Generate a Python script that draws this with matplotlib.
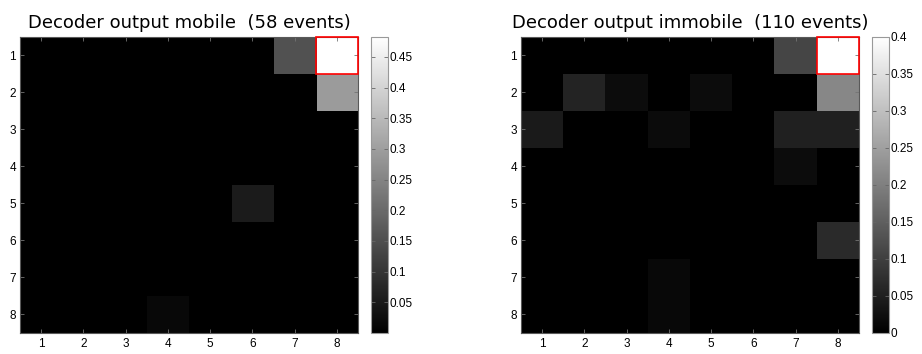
import numpy as np
import matplotlib
matplotlib.use("Agg")
import matplotlib.pyplot as plt
from matplotlib.patches import Rectangle
from matplotlib.ticker import FuncFormatter

labels = [1, 2, 3, 4, 5, 6, 7, 8]

mobile_title = "Decoder output mobile  (58 events)"
immobile_title = "Decoder output immobile  (110 events)"

# rows 1..8 (top to bottom), columns 1..8
mobile = np.array([
    [0, 0, 0, 0, 0, 0, 0.155, 0.483],
    [0, 0, 0, 0, 0, 0, 0, 0.293],
    [0, 0, 0, 0, 0, 0, 0, 0],
    [0, 0, 0, 0, 0, 0, 0, 0],
    [0, 0, 0, 0, 0, 0.052, 0, 0],
    [0, 0, 0, 0, 0, 0, 0, 0],
    [0, 0, 0, 0, 0, 0, 0, 0],
    [0, 0, 0, 0.017, 0, 0, 0, 0],
])

immobile = np.array([
    [0, 0, 0, 0, 0, 0, 0.109, 0.400],
    [0, 0.055, 0.019, 0, 0.019, 0, 0, 0.212],
    [0.041, 0, 0, 0.018, 0, 0, 0.050, 0.050],
    [0, 0, 0, 0, 0, 0, 0.020, 0],
    [0, 0, 0, 0, 0, 0, 0, 0],
    [0, 0, 0, 0, 0, 0, 0, 0.066],
    [0, 0, 0, 0.014, 0, 0, 0, 0],
    [0, 0, 0, 0.014, 0, 0, 0, 0],
])

mobile_cticks = [0.05, 0.1, 0.15, 0.2, 0.25, 0.3, 0.35, 0.4, 0.45]
immobile_cticks = [0, 0.05, 0.1, 0.15, 0.2, 0.25, 0.3, 0.35, 0.4]
highlight = (1, 8)  # (row, col)

W, H = 922, 354
fig = plt.figure(figsize=(W / 100, H / 100), dpi=100)

tickfont = dict(family="Liberation Sans", size=8.5)
fmt = FuncFormatter(lambda v, p: ("%g" % round(v, 4)))

def panel(data, title, ax_px, cb_px, vmin, vmax, cticks):
    x0, x1, y0, y1 = ax_px
    ax = fig.add_axes([x0 / W, 1 - y1 / H, (x1 - x0) / W, (y1 - y0) / H])
    im = ax.imshow(data, cmap="gray", vmin=vmin, vmax=vmax, aspect="auto",
                   interpolation="nearest", extent=(0.5, 8.5, 8.5, 0.5))
    ax.set_xticks(labels)
    ax.set_yticks(labels)
    ax.set_xticklabels([str(l) for l in labels], fontdict=tickfont)
    ax.set_yticklabels([str(l) for l in labels], fontdict=tickfont)
    ax.tick_params(direction="in", length=3, width=0.6, color="0.45",
                   top=True, right=True, pad=4)
    ax.tick_params(axis="y", pad=3)
    for s in ax.spines.values():
        s.set_color("0.35")
        s.set_linewidth(0.8)
    r, c = highlight
    ax.add_patch(Rectangle((c - 0.5, r - 0.5), 1, 1, fill=False,
                           edgecolor="red", linewidth=1.2, clip_on=False, zorder=5))
    ax.set_title(title, family="DejaVu Sans", fontsize=13, pad=6)

    cx0, cx1 = cb_px
    cax = fig.add_axes([cx0 / W, 1 - y1 / H, (cx1 - cx0) / W, (y1 - y0) / H])
    cb = fig.colorbar(im, cax=cax)
    cb.set_ticks(cticks)
    cb.ax.yaxis.set_major_formatter(fmt)
    for t in cb.ax.get_yticklabels():
        t.set_family("Liberation Sans")
        t.set_fontsize(8.5)
    cb.ax.tick_params(direction="in", length=3, width=0.6, color="0.4",
                      left=True, right=True, pad=1)
    cb.outline.set_edgecolor("0.6")
    cb.outline.set_linewidth(0.8)

panel(mobile, mobile_title, (20, 358, 36.7, 332.7), (371, 388), 0.0005, 0.483, mobile_cticks)
panel(immobile, immobile_title, (521, 859, 36.7, 332.7), (872, 889), 0.0, 0.4, immobile_cticks)

fig.savefig("out.png", dpi=100)
